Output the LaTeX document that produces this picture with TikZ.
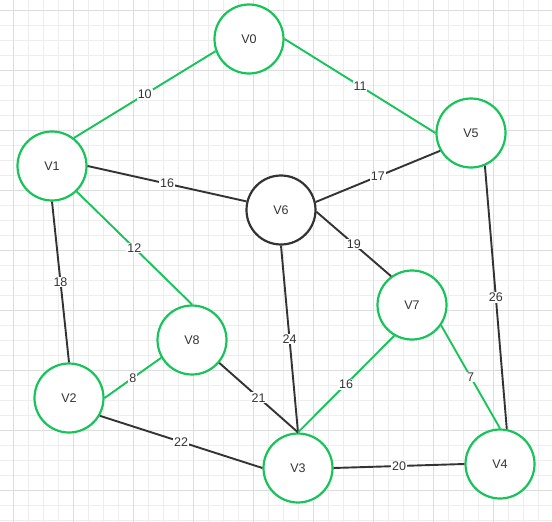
\documentclass[tikz,border=0pt]{standalone}
\usepackage{fontspec}
\setmainfont{Liberation Sans}
\definecolor{vgreen}{HTML}{17C45A}
\definecolor{vdark}{HTML}{333333}
\definecolor{gminor}{HTML}{EDEDED}
\definecolor{gmajor}{HTML}{DDDDDD}
\begin{document}
\begin{tikzpicture}[x=1pt,y=-1pt,
  vert/.style={circle,draw=vgreen,line width=2.2pt,fill=white,minimum size=69pt,inner sep=0pt,font=\fontsize{12.5}{14}\selectfont,text=vdark},
  vertdark/.style={vert,draw=vdark},
  gedge/.style={draw=vgreen,line width=1.9pt},
  dedge/.style={draw=vdark,line width=1.9pt},
  wlabel/.style={fill=white,inner sep=1pt,font=\fontsize{12.5}{14}\selectfont,text=vdark}]
\useasboundingbox (0,0) rectangle (552,522);
\fill[white] (0,0) rectangle (552,522);
\foreach \i in {0,...,37} {\draw[gminor,line width=0.8pt] ({-2+15*\i},0) -- ({-2+15*\i},522);}
\foreach \i in {0,...,35} {\draw[gminor,line width=0.8pt] (0,{10+15*\i}) -- (552,{10+15*\i});}
\foreach \i in {0,...,9} {\draw[gmajor,line width=0.8pt] ({13+60*\i},0) -- ({13+60*\i},522);}
\foreach \i in {0,...,8} {\draw[gmajor,line width=0.8pt] (0,{10+60*\i}) -- (552,{10+60*\i});}

\node[vert] (v0) at (249,39) {V0};
\node[vert] (v1) at (52,166) {V1};
\node[vertdark] (v6) at (281,210) {V6};
\node[vert] (v5) at (471,133) {V5};
\node[vert] (v8) at (192,340) {V8};
\node[vert] (v2) at (69,398) {V2};
\node[vert] (v3) at (298,468) {V3};
\node[vert] (v7) at (412,305) {V7};
\node[vert] (v4) at (500,464) {V4};

\draw[gedge] (v0.200) -- node[wlabel] {10} (v1.52);
\draw[gedge] (v0.east) -- node[wlabel] {11} (v5.west);
\draw[dedge] (v1.east) -- node[wlabel] {16} (v6.166);
\draw[gedge] (v1.-46) -- node[wlabel] {12} (v8.north);
\draw[dedge] (v1.south) -- node[wlabel] {18} (v2.north);
\draw[dedge] (v5.210) -- node[wlabel] {17} (v6.13);
\draw[dedge] (v6.-3) -- node[wlabel] {19} (v7.126);
\draw[dedge] (v5.-67) -- node[wlabel] {26} (v4.79);
\draw[gedge] (v2.east) -- node[wlabel] {8} (v8.210);
\draw[dedge] (v6.south) -- node[wlabel] {24} (v3.north);
\draw[dedge] (v8.-40) -- node[wlabel] {21} (v3.north);
\draw[gedge] (v7.240) -- node[wlabel] {16} (v3.north);
\draw[gedge] (v7.-35) -- node[wlabel] {7} (v4.north);
\draw[dedge] (v2.-30) -- node[wlabel] {22} (v3.west);
\draw[dedge] (v3.east) -- node[wlabel] {20} (v4.west);
\end{tikzpicture}
\end{document}
